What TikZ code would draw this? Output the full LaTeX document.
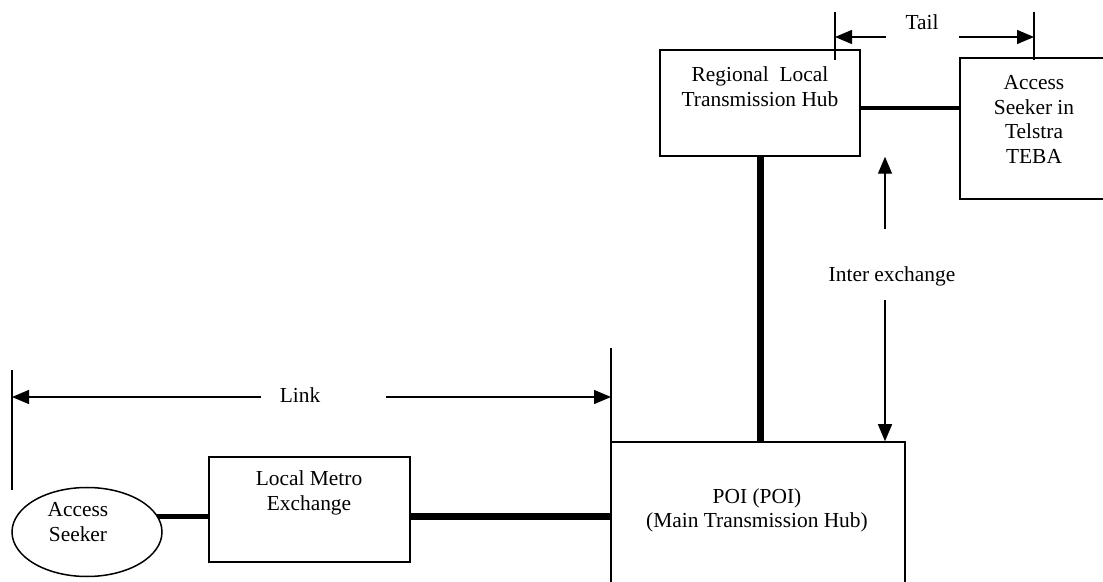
\documentclass[tikz,border=0pt]{standalone}
\usepackage{fontspec}
\setmainfont{Liberation Serif}
\usetikzlibrary{arrows.meta,backgrounds,shapes.geometric}
\begin{document}
\begin{tikzpicture}[x=0.5pt,y=-0.5pt,
  font=\fontsize{10.7}{12.3}\selectfont,
  box/.style={draw,line width=0.75pt,fill=white,inner sep=0pt},
  lbl/.style={align=center,inner sep=0pt},
  thin/.style={line width=0.65pt},
  dim/.style={line width=0.65pt,-{Triangle[length=8.5pt,width=7pt]}},
  link1/.style={line width=1.7pt},
  link2/.style={line width=2.5pt},
  link3/.style={line width=3.5pt}]
\useasboundingbox (0,0) rectangle (1103,582);
\clip (0,0) rectangle (1103,582);
% nodes
\node[box,minimum width=100pt,minimum height=53pt] (hub) at (760,103) {};
\node[lbl] (hubt) at (760,86.5) {Regional\ \ Local\\Transmission Hub};
\node[box,minimum width=73pt,minimum height=70.5pt] (teba) at (1033,128.5) {};
\node[lbl] (tebat) at (1034,119.5) {Access\\Seeker in\\Telstra\\TEBA};
\node[box,minimum width=100.5pt,minimum height=52.5pt] (lme) at (309.5,509.5) {};
\node[lbl] (lmet) at (309,493) {Local Metro\\Exchange};
\node[box,ellipse,minimum width=75pt,minimum height=44.5pt] (as) at (87,532) {};
\node[lbl] (ast) at (78,522) {Access\\Seeker};
\node[box,minimum width=147pt,minimum height=89pt] (poi) at (758,531) {};
\node[lbl] (poit) at (757,510.5) {POI (POI)\\(Main Transmission Hub)};
% dimension labels
\node[lbl] (tail) at (922,22) {Tail};
\node[lbl] (link) at (300,395) {Link};
\node[lbl] (inter) at (892,276) {Inter exchange};
% coordinates
\coordinate (tA) at (835,12); \coordinate (tB) at (835,60);
\coordinate (tC) at (1034,12); \coordinate (tD) at (1034,60);
\coordinate (tL) at (886,37); \coordinate (tR) at (959,37);
\coordinate (lA) at (12,370); \coordinate (lB) at (12,490);
\coordinate (lC) at (611,348); \coordinate (lD) at (611,590);
\coordinate (lL) at (261,397); \coordinate (lR) at (386,397);
\coordinate (iU) at (885,229); \coordinate (iD) at (885,300);
\begin{scope}[on background layer]
\draw[link2] (as.center |- 0,516) -- (lme.west |- 0,516);
\end{scope}
\draw[link3] (lme.east |- 0,516) -- (poi.west |- 0,516);
\draw[link3] (hub.south) -- (hub.south |- poi.north);
\draw[link1] (hub.east |- 0,108) -- (teba.west |- 0,108);
% tail
\draw[thin] (tA) -- (tB);
\draw[thin] (tC) -- (tD);
\draw[dim] (tL) -- (tA |- tL);
\draw[dim] (tR) -- (tC |- tR);
% link
\draw[thin] (lA) -- (lB);
\draw[thin] (lC) -- (lD);
\draw[dim] (lL) -- (lA |- lL);
\draw[dim] (lR) -- (lC |- lR);
% inter exchange
\draw[dim] (iU) -- (iU |- hub.south);
\draw[dim] (iD) -- (iD |- poi.north);
\end{tikzpicture}
\end{document}
